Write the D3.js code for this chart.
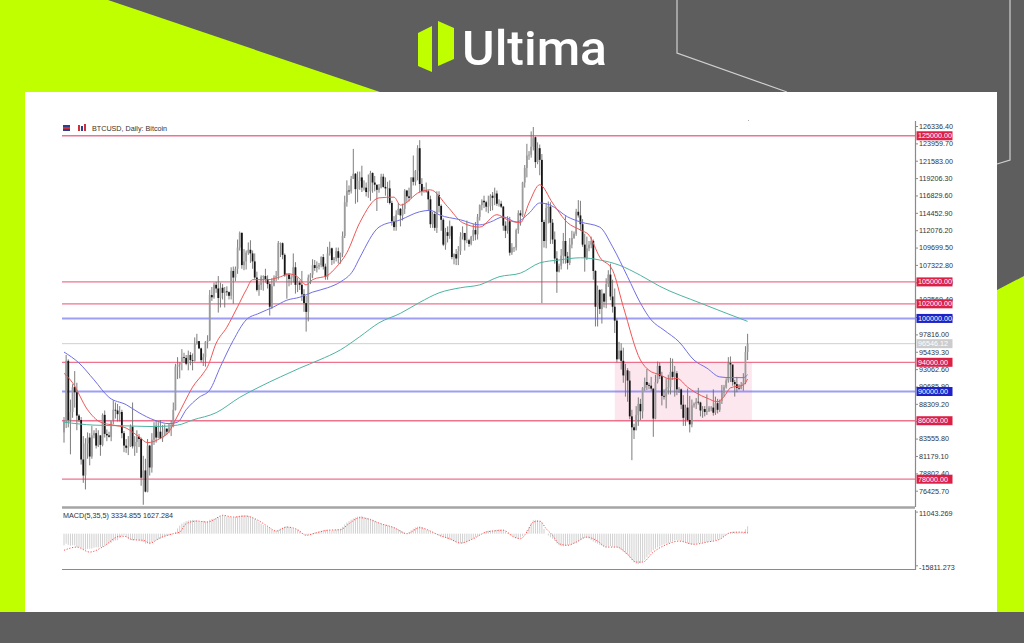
<!DOCTYPE html>
<html><head><meta charset="utf-8">
<script src="https://cdn.jsdelivr.net/npm/d3@7"></script>
<style>html,body{margin:0;padding:0;background:#5e5e5e;overflow:hidden}text{font-family:"Liberation Sans",Arial,sans-serif}</style>
</head><body><svg id="c" width="1024" height="643"></svg>
<script>
// ---- DATA (prices in USD thousands), daily bars from 1 Mar 2025 to 14 Jan 2026 ----
const opens=[84.4,86.0,94.2,86.1,87.2,90.6,89.9,86.7,86.1,80.7,78.5,82.9,83.7,81.1,84.0,84.3,82.6,84.0,82.7,86.8,84.2,84.0,83.8,86.1,87.5,87.4,86.9,87.2,84.3,82.6,82.3,
82.5,85.2,82.5,83.1,83.8,83.5,78.2,79.2,76.3,82.6,79.6,83.4,85.3,83.7,84.5,83.6,84.0,84.9,84.5,85.1,85.2,87.5,93.4,93.7,93.9,94.7,94.6,93.8,95.0,94.3,
94.2,96.5,96.9,95.9,94.3,94.7,96.8,97.0,103.2,102.9,104.6,104.1,102.8,104.2,103.5,103.7,103.6,103.1,106.5,105.6,106.8,109.7,111.7,107.3,107.8,109.0,109.4,108.9,107.8,105.6,103.9,
104.6,105.7,105.8,105.4,104.7,101.6,104.4,105.6,105.8,110.3,110.3,108.7,105.9,106.0,105.4,105.6,107.0,104.6,104.9,104.6,103.3,102.1,100.9,105.6,106.0,107.3,106.9,107.1,107.3,108.4,
107.1,105.7,108.9,109.6,108.0,108.2,109.2,108.3,108.9,111.3,115.9,117.5,117.4,119.1,119.8,117.7,118.8,119.3,117.9,117.9,117.3,117.4,119.9,118.6,118.3,117.6,117.9,119.4,118.0,117.8,117.8,
115.8,113.3,112.5,114.2,115.0,114.1,115.0,117.5,116.7,116.5,119.3,118.7,120.2,123.3,118.4,117.4,117.5,117.4,116.3,112.9,114.3,112.4,116.9,115.4,113.5,110.1,111.8,111.3,112.6,108.4,108.8,
108.2,109.2,111.2,111.7,110.7,110.7,110.2,111.2,112.1,111.5,113.9,115.5,116.1,115.9,115.3,115.4,116.8,116.5,117.1,115.7,115.7,115.3,112.7,112.0,113.3,109.0,109.7,109.7,112.1,114.4,
114.1,118.6,120.6,122.3,122.4,123.5,124.8,121.4,123.3,121.7,113.2,110.6,115.1,115.3,113.1,110.8,108.2,106.4,107.2,108.6,110.6,108.5,107.6,110.1,111.0,111.6,114.6,114.1,112.9,110.1,108.3,
109.6,110.1,110.6,106.5,101.6,103.9,101.3,103.4,102.3,104.7,106.0,103.0,101.6,99.7,94.4,95.6,94.2,92.2,92.9,91.5,86.6,85.1,84.7,86.8,88.3,87.3,90.5,91.3,90.9,90.8,
90.4,86.3,91.3,93.5,92.1,89.4,89.3,90.4,90.6,92.7,92.0,92.5,90.3,90.3,88.2,86.4,87.8,86.1,85.5,88.1,88.3,88.6,88.5,87.4,87.6,87.2,87.3,87.8,87.8,87.1,88.4,
87.5,88.7,89.9,90.6,91.5,93.9,93.7,91.3,91.0,90.5,90.4,90.8,91.2,95.4];
const highs=[86.5,95.0,94.4,88.9,91.0,92.8,91.2,86.9,86.5,83.9,83.6,84.4,84.3,85.3,84.7,85.0,84.7,84.0,87.0,87.4,84.8,84.5,86.1,88.8,88.5,88.3,88.0,87.5,84.6,83.5,83.9,
85.5,88.5,83.9,84.7,84.2,83.7,81.2,80.8,83.5,82.7,84.3,85.8,86.0,85.8,86.1,85.4,85.5,85.0,85.6,86.0,88.5,93.8,94.7,94.0,95.8,95.3,95.0,95.6,95.4,95.2,
97.4,97.9,96.9,96.0,95.2,96.9,97.7,103.9,104.3,104.9,105.0,105.8,104.9,104.7,104.3,104.4,103.7,107.0,107.1,107.1,110.8,111.9,111.8,109.5,109.3,110.4,110.7,109.3,108.9,106.4,104.9,
105.9,105.9,106.8,105.9,105.0,105.5,105.9,106.5,110.6,110.4,110.4,108.9,106.2,106.2,106.0,108.9,107.7,105.6,105.2,106.5,104.0,103.1,106.0,106.2,108.1,108.0,107.8,107.6,108.5,108.8,
107.5,109.8,110.5,109.7,108.4,109.7,109.7,109.0,111.9,116.8,118.9,118.2,119.5,123.2,119.9,120.1,120.1,120.9,118.9,118.6,119.7,120.2,120.0,119.5,118.3,118.4,119.8,119.8,119.3,118.7,118.9,
116.1,114.0,114.8,115.8,115.1,115.7,117.7,117.6,117.9,119.3,122.3,120.3,123.7,124.4,119.2,118.0,118.6,117.6,116.8,114.6,114.7,117.4,117.4,115.6,113.7,112.4,112.6,113.4,112.7,108.9,109.5,
109.9,111.8,112.6,111.7,113.4,110.9,111.3,112.9,113.2,114.3,115.6,116.3,116.8,116.1,116.8,117.0,117.3,117.9,117.5,116.3,116.1,115.4,113.3,114.0,113.9,110.3,109.8,112.3,114.8,114.8,
118.7,121.0,123.9,122.9,125.6,126.2,124.9,124.1,123.8,122.5,113.5,115.8,116.0,115.9,113.6,111.9,109.2,107.5,109.5,111.7,114.0,109.1,111.0,112.0,111.9,115.0,116.2,116.1,113.6,111.6,111.2,
110.6,111.2,110.8,106.6,104.5,104.0,104.0,103.5,105.5,106.6,107.5,105.3,104.1,100.0,96.8,96.6,96.0,93.8,93.2,92.8,87.5,85.6,88.0,89.2,89.0,90.6,91.9,93.1,91.2,92.0,
90.4,92.3,94.1,94.0,92.7,90.3,91.8,92.3,94.6,94.5,93.5,92.8,90.6,90.4,89.5,88.2,90.4,89.4,88.9,88.5,89.1,90.5,88.6,88.0,88.0,89.6,88.0,88.0,90.3,89.3,89.0,
88.9,90.9,90.9,91.8,94.7,94.8,93.6,91.6,92.0,91.0,91.3,92.5,96.2,97.9];
const lows=[83.0,85.0,85.1,81.4,86.4,87.8,84.7,85.8,80.0,77.5,76.6,80.8,79.9,80.8,83.6,82.2,82.4,81.2,82.5,83.7,83.2,83.7,83.2,85.5,86.3,85.9,85.9,83.6,81.7,81.6,81.3,
82.4,82.2,81.2,81.6,82.4,77.1,74.5,76.2,76.2,78.5,78.9,82.7,83.0,83.6,83.5,83.1,83.9,84.1,84.3,83.9,85.1,87.4,91.7,91.8,92.9,93.9,93.6,92.9,93.6,92.9,
94.1,96.4,95.8,94.0,93.5,93.4,95.9,96.9,102.4,102.7,103.5,100.8,101.5,102.6,101.5,103.1,102.6,102.6,102.0,105.1,106.1,109.3,106.8,106.6,106.7,108.7,107.6,106.8,105.4,103.7,103.1,
103.9,103.8,104.9,104.1,100.4,101.3,104.6,105.1,105.3,108.4,108.1,105.7,102.7,104.4,104.6,104.9,103.4,103.6,103.9,102.4,100.9,98.2,99.6,104.7,105.5,106.5,106.3,106.7,107.0,106.7,
105.3,105.3,108.6,107.3,107.5,107.8,107.5,107.5,108.4,111.0,115.3,116.9,117.1,119.1,115.7,115.9,117.6,117.3,117.5,116.7,116.5,116.1,117.2,117.4,114.7,117.2,117.8,117.9,116.8,115.8,115.6,
112.7,112.0,112.0,114.2,112.6,113.4,114.3,115.9,116.0,116.4,118.2,118.2,118.9,117.2,116.8,117.2,117.2,114.7,112.4,112.4,112.0,111.7,114.5,112.0,109.9,109.4,110.4,110.9,108.1,107.4,107.3,
107.3,108.7,110.8,109.3,110.3,109.8,110.0,110.6,110.7,110.8,113.4,114.8,115.1,114.6,114.4,114.7,114.8,115.5,115.4,115.3,115.1,112.0,111.0,111.6,108.6,108.7,109.1,109.3,111.6,112.7,
113.9,117.9,119.3,121.7,122.0,123.0,120.6,121.1,119.6,102.1,109.7,109.6,113.0,110.2,110.2,107.5,103.5,106.3,106.7,107.5,107.5,106.7,107.3,109.6,110.9,111.3,113.8,112.0,109.8,106.4,108.0,
109.2,109.6,105.3,98.9,98.9,100.6,99.3,101.5,101.4,104.3,102.5,100.8,98.0,94.0,94.5,93.0,91.2,89.3,88.6,86.2,80.6,83.5,84.7,85.3,86.1,86.3,90.1,90.2,90.3,90.1,
83.8,86.2,91.1,91.7,88.1,88.9,87.7,89.6,89.6,91.6,89.3,89.5,89.8,87.6,85.3,85.3,85.9,84.4,85.1,87.8,87.6,88.2,86.6,86.4,86.6,86.8,87.2,87.3,86.7,86.8,87.0,
87.2,88.3,89.3,90.4,91.2,91.3,90.8,89.3,89.9,90.2,90.3,90.1,91.0,94.3];
const closes=[86.0,94.2,86.1,87.2,90.6,89.9,86.7,86.1,80.7,78.5,82.9,83.7,81.1,84.0,84.3,82.6,84.0,82.7,86.8,84.2,84.0,83.8,86.1,87.5,87.4,86.9,87.2,84.3,82.6,82.3,82.5,
85.2,82.5,83.1,83.8,83.5,78.2,79.2,76.3,82.6,79.6,83.4,85.3,83.7,84.5,83.6,84.0,84.9,84.5,85.1,85.2,87.5,93.4,93.7,93.9,94.7,94.6,93.8,95.0,94.3,94.2,
96.5,96.9,95.9,94.3,94.7,96.8,97.0,103.2,102.9,104.6,104.1,102.8,104.2,103.5,103.7,103.6,103.1,106.5,105.6,106.8,109.7,111.7,107.3,107.8,109.0,109.4,108.9,107.8,105.6,103.9,104.6,
105.7,105.8,105.4,104.7,101.6,104.4,105.6,105.8,110.3,110.3,108.7,105.9,106.0,105.4,105.6,107.0,104.6,104.9,104.6,103.3,102.1,100.9,105.6,106.0,107.3,106.9,107.1,107.3,108.4,107.1,
105.7,108.9,109.6,108.0,108.2,109.2,108.3,108.9,111.3,115.9,117.5,117.4,119.1,119.8,117.7,118.8,119.3,117.9,117.9,117.3,117.4,119.9,118.6,118.3,117.6,117.9,119.4,118.0,117.8,117.8,115.8,
113.3,112.5,114.2,115.0,114.1,115.0,117.5,116.7,116.5,119.3,118.7,120.2,123.3,118.4,117.4,117.5,117.4,116.3,112.9,114.3,112.4,116.9,115.4,113.5,110.1,111.8,111.3,112.6,108.4,108.8,108.2,
109.2,111.2,111.7,110.7,110.7,110.2,111.2,112.1,111.5,113.9,115.5,116.1,115.9,115.3,115.4,116.8,116.5,117.1,115.7,115.7,115.3,112.7,112.0,113.3,109.0,109.7,109.7,112.1,114.4,114.1,
118.6,120.6,122.3,122.4,123.5,124.8,121.4,123.3,121.7,113.2,110.6,115.1,115.3,113.1,110.8,108.2,106.4,107.2,108.6,110.6,108.5,107.6,110.1,111.0,111.6,114.6,114.1,112.9,110.1,108.3,109.6,
110.1,110.6,106.5,101.6,103.9,101.3,103.4,102.3,104.7,106.0,103.0,101.6,99.7,94.4,95.6,94.2,92.2,92.9,91.5,86.6,85.1,84.7,86.8,88.3,87.3,90.5,91.3,90.9,90.8,90.4,
86.3,91.3,93.5,92.1,89.4,89.3,90.4,90.6,92.7,92.0,92.5,90.3,90.3,88.2,86.4,87.8,86.1,85.5,88.1,88.3,88.6,88.5,87.4,87.6,87.2,87.3,87.8,87.8,87.1,88.4,87.5,
88.7,89.9,90.6,91.5,93.9,93.7,91.3,91.0,90.5,90.4,90.8,91.2,95.4,96.5];

// moving averages: [bar index, value]
const maFast=[[0,92.5],[4,91.2],[11,87.5],[17,85.8],[23,85.4],[29,85.0],[35,83.8],[39,83.0],[45,83.6],[49,84.5],[52,86.1],[56,88.4],[60,90.6],[65,92.5],[67,93.4],[71,96.6],[76,98.8],[81,101.6],[85,103.9],[88,105.3],[95,105.3],[101,105.7],[105,106.1],[109,105.7],[113,104.6],[116,105.3],[123,105.9],[127,107.0],[132,109.0],[138,113.1],[147,116.5],[154,116.6],[157,115.5],[166,117.3],[171,117.6],[179,115.3],[186,113.1],[194,112.5],[202,114.2],[207,113.5],[213,113.1],[217,115.8],[222,118.3],[228,115.8],[235,113.1],[241,112.1],[245,111.4],[250,108.4],[256,106.6],[261,101.6],[269,94.3],[273,92.9],[278,92.3],[283,91.7],[286,91.8],[291,90.6],[295,89.8],[300,89.1],[305,88.6],[308,89.3],[311,90.5],[317,90.9],[319,91.7]];
const maMid=[[0,95.4],[7,93.9],[14,91.6],[21,89.2],[29,88.2],[35,87.1],[42,86.1],[49,85.6],[53,85.8],[57,87.5],[63,89.2],[68,90.2],[73,93.4],[79,97.0],[85,99.8],[91,100.7],[98,101.6],[104,102.5],[110,102.9],[116,103.6],[123,104.2],[129,105.0],[135,106.6],[138,108.3],[147,112.5],[157,113.5],[166,114.6],[171,114.8],[175,114.2],[185,113.5],[194,112.8],[199,113.2],[205,113.9],[211,113.2],[217,114.4],[222,115.8],[227,115.5],[235,113.9],[241,113.2],[250,112.5],[256,109.8],[263,105.7],[269,102.1],[274,99.8],[280,98.4],[287,96.8],[294,94.3],[300,93.2],[306,92.0],[311,91.9],[317,91.9],[319,92.3]];
const maSlow=[[0,85.8],[14,85.4],[29,85.3],[42,85.2],[53,85.4],[60,86.1],[71,87.1],[82,89.2],[91,90.6],[101,92.0],[110,93.2],[119,94.3],[129,95.7],[138,97.5],[147,99.4],[157,100.7],[166,102.2],[175,103.5],[185,104.2],[194,104.6],[203,105.7],[213,106.2],[222,107.6],[231,108.0],[241,108.3],[250,108.0],[259,107.3],[269,105.9],[278,104.4],[297,102.1],[319,99.6]];

// MACD(5,35,5) histogram per bar (thousands) and signal [bar index, value]
const macdHist=[-5.8,-5.0,-5.6,-6.0,-5.8,-5.9,-6.7,-6.9,-7.1,-7.8,
-8.0,-7.6,-7.5,-7.4,-7.0,-6.8,-6.9,-6.6,-6.7,-5.8,
-5.4,-5.0,-4.6,-3.8,-3.4,-3.3,-2.2,-1.2,-0.8,-1.6,
-2.4,-3.0,-3.3,-3.1,-3.0,-3.4,-3.9,-4.2,-5.0,-4.9,
-5.3,-4.4,-3.8,-3.2,-2.9,-2.5,-2.0,-1.6,-1.2,-0.8,
-0.4,0,0.9,2.6,4.0,5.0,5.6,6.3,6.6,6.8,
6.9,6.7,6.7,6.0,6.2,6.4,6.1,6.3,7.0,7.4,
7.5,7.9,8.3,8.8,9.2,9.0,8.6,8.4,8.1,8.0,
8.4,8.8,9.0,9.4,9.3,9.2,8.9,8.3,7.9,7.3,
6.7,5.9,5.0,4.3,3.9,3.3,2.8,2.0,1.5,1.3,
1.9,2.6,3.1,3.5,3.7,3.4,3.0,2.5,2.2,2.0,
1.2,0.5,-0.3,-0.8,-0.5,-0.1,0.3,0.6,0.8,1.2,
1.5,1.8,1.9,2.0,1.6,1.4,1.7,2.0,2.3,2.5,
3.4,4.6,5.6,6.3,7.0,7.6,8.1,8.5,8.7,8.9,
8.4,8.0,7.8,7.5,7.0,6.4,5.9,5.3,5.0,4.8,
4.5,4.2,3.9,3.6,3.3,2.8,2.3,1.8,1.2,0.6,
0,0.9,1.7,2.5,3.1,3.5,3.7,3.3,2.6,2.0,
1.6,1.3,0.8,0.3,-0.3,-0.8,-1.3,-1.8,-2.2,-2.7,
-3.0,-3.4,-3.9,-4.3,-4.5,-4.7,-4.9,-4.6,-4.0,-3.6,
-3.0,-2.5,-1.8,-1.2,-0.6,0,0.6,1.3,1.5,1.6,
1.7,1.8,2.0,2.2,2.1,2.0,1.2,0.4,-0.4,-1.1,
-1.7,-2.3,-2.2,-2.0,-1.2,0.2,1.7,3.4,5.2,6.7,
6.9,6.8,6.3,5.6,2.4,0,-0.9,-1.8,-2.5,-3.6,
-4.8,-5.8,-6.2,-6.3,-6.1,-5.8,-5.6,-5.3,-5.0,-4.7,
-4.0,-3.2,-2.5,-2.0,-2.0,-2.4,-3.2,-3.9,-4.5,-5.0,
-5.6,-6.0,-6.4,-6.7,-6.4,-6.2,-6.5,-6.6,-6.7,-7.3,
-8.2,-9.0,-9.9,-10.8,-12.0,-13.3,-14.4,-15.0,-15.2,-14.8,
-14.2,-13.0,-11.8,-10.5,-9.4,-8.3,-7.6,-6.9,-6.4,-5.8,
-5.4,-5.0,-4.9,-4.3,-3.8,-3.4,-3.2,-3.3,-3.6,-4.0,
-4.4,-4.8,-5.2,-5.4,-5.3,-5.1,-4.8,-4.6,-4.5,-4.4,
-4.2,-4.0,-3.8,-3.5,-3.2,-2.9,-2.5,-2.0,-1.2,-0.5,
0.2,0.8,1.0,0.9,0.8,0.8,0.7,0.6,2.2,3.7];
const macdSignal=[[0,-8.3],[6,-6.7],[12,-9.2],[18,-6.7],[26,-1.3],[28,-1.3],[32,-3.0],[37,-3.3],[40,-4.7],[45,-2.0],[51,0],[54,0.8],[57,5.0],[62,6.3],[67,5.8],[70,7.0],[74,9.2],[79,8.3],[85,8.8],[90,7.0],[95,3.7],[99,1.3],[104,3.3],[109,2.0],[113,-0.8],[118,0.5],[123,1.7],[129,2.0],[133,5.0],[138,8.0],[143,7.0],[147,5.3],[154,3.0],[160,0],[166,3.0],[171,1.3],[175,-0.8],[180,-2.5],[185,-4.7],[191,-2.5],[197,0.8],[200,1.3],[205,1.7],[210,-1.7],[213,-2.5],[216,0.8],[219,5.8],[222,6.3],[225,2.5],[228,-0.8],[231,-5.0],[235,-5.8],[239,-4.2],[244,-1.7],[249,-3.7],[253,-6.7],[258,-6.7],[263,-10.3],[267,-14.2],[270,-14.2],[275,-9.2],[281,-5.5],[287,-3.7],[294,-5.3],[300,-4.2],[306,-2.8],[311,0.5],[315,0.8],[319,0.5]];
const macdTicks=[11043.269,-15811.273];

const dateTickLabels=["18 Feb 2025","1 Apr 2025","3 May 2025","4 Jun 2025","6 Jul 2025","7 Aug 2025","9 Sep 2025","12 Oct 2025","13 Nov 2025","16 Dec 2025"];
const dateTickIdx=[-1,31,63,95,127,159,192,225,257,290];
const priceTicks=[126336.40,123959.70,121583.00,119206.30,116829.60,114452.90,112076.20,109699.50,107322.80,104946.10,102569.40,100192.70,97816.00,95439.30,93062.60,90685.90,88309.20,85932.50,83555.80,81179.10,78802.40,76425.70];
const redLevels=[125000,105000,102000,94000,86000,78000];
const blueLevels=[100000,90000];
const bidPrice=96546.12;
const zoneIdx=[257,321];
const zonePrice=[94000,86000];

// ---- DRAW ----
const svg=d3.select("#c");
svg.append("rect").attr("width",1024).attr("height",643).attr("fill","#5e5e5e");
svg.append("path").attr("d","M0,0 L108,0 L380,92 L25,92 L25,612 L0,612 Z").attr("fill","#bfff00");
svg.append("path").attr("d","M997,290 L1024,276 L1024,612 L997,612 Z").attr("fill","#bfff00");
svg.append("path").attr("d","M677,0 L677,53 L787,92").attr("fill","none").attr("stroke","#d0d0d0").attr("stroke-width",1.2);
svg.append("path").attr("d","M1010,0 L1010,160 L997,164").attr("fill","none").attr("stroke","#d0d0d0").attr("stroke-width",1.2);
svg.append("rect").attr("x",25).attr("y",92).attr("width",972).attr("height",520).attr("fill","#ffffff");

// logo
svg.append("path").attr("d","M418,33 L432,26 L432,72 L418,66 Z").attr("fill","#bfff00");
svg.append("path").attr("d","M438,21 L454,28 L454,59 L438,66 Z").attr("fill","#bfff00");
svg.append("text").attr("x",462).attr("y",65).attr("fill","#ffffff").attr("font-size",48).attr("font-weight",500)
  .style("font-family","Roboto, 'Open Sans', sans-serif").attr("textLength",145).attr("lengthAdjust","spacingAndGlyphs").text("Ultima");

const xs=d3.scaleLinear().domain([0,319]).range([64,747.6]);
const yP=d3.scaleLinear().domain([76.4257,126.3364]).range([490.7,126]);
const yM=d3.scaleLinear().domain([-15.811273,11.043269]).range([565.3,511.6]);
const X0=62,X1=915;

const defs=svg.append("defs");
defs.append("clipPath").attr("id","cp").append("rect").attr("x",X0).attr("y",121).attr("width",X1-X0).attr("height",385);
defs.append("clipPath").attr("id","cm").append("rect").attr("x",X0).attr("y",510).attr("width",X1-X0).attr("height",59);
defs.append("clipPath").attr("id","cx").append("rect").attr("x",X0).attr("y",570).attr("width",X1-X0+40).attr("height",20);

const gp=svg.append("g").attr("clip-path","url(#cp)");
// zone
gp.append("rect").attr("x",xs(zoneIdx[0])).attr("width",xs(zoneIdx[1])-xs(zoneIdx[0]))
  .attr("y",yP(zonePrice[0]/1000)).attr("height",yP(zonePrice[1]/1000)-yP(zonePrice[0]/1000)).attr("fill","#fde7ee");
// level lines
gp.selectAll(".rl").data(redLevels).join("line").attr("x1",X0).attr("x2",X1)
  .attr("y1",d=>yP(d/1000)).attr("y2",d=>yP(d/1000)).attr("stroke","#e8446a").attr("stroke-opacity",0.75).attr("stroke-width",1.3);
gp.selectAll(".bl").data(blueLevels).join("line").attr("x1",X0).attr("x2",X1)
  .attr("y1",d=>yP(d/1000)).attr("y2",d=>yP(d/1000)).attr("stroke","#6a6af0").attr("stroke-opacity",0.65).attr("stroke-width",2);
gp.append("line").attr("x1",X0).attr("x2",X1).attr("y1",yP(bidPrice/1000)).attr("y2",yP(bidPrice/1000)).attr("stroke","#cfcfcf").attr("stroke-width",1);

// candles
const idx=d3.range(closes.length);
gp.selectAll(".wk").data(idx).join("line").attr("x1",i=>xs(i)).attr("x2",i=>xs(i))
  .attr("y1",i=>yP(highs[i])).attr("y2",i=>yP(lows[i])).attr("stroke","#6e6e6e").attr("stroke-width",0.9);
gp.selectAll(".bd").data(idx).join("rect").attr("x",i=>xs(i)-0.9).attr("width",1.8)
  .attr("y",i=>yP(Math.max(opens[i],closes[i])))
  .attr("height",i=>Math.max(0.8,Math.abs(yP(opens[i])-yP(closes[i]))))
  .attr("fill",i=>closes[i]>=opens[i]?"#9c9c9c":"#151515");

// moving averages
const ln=d3.line().x(d=>xs(d[0])).y(d=>yP(d[1])).curve(d3.curveMonotoneX);
gp.append("path").attr("d",ln(maSlow)).attr("fill","none").attr("stroke","#4fb3a3").attr("stroke-width",1);
gp.append("path").attr("d",ln(maMid)).attr("fill","none").attr("stroke","#6f6fe6").attr("stroke-width",1);
gp.append("path").attr("d",ln(maFast)).attr("fill","none").attr("stroke","#f05555").attr("stroke-width",1);

// axes frame
const ax="#8a8a8a";
svg.append("line").attr("x1",X0).attr("x2",X1).attr("y1",507.5).attr("y2",507.5).attr("stroke","#a5a5a5").attr("stroke-width",2.5);
svg.append("line").attr("x1",X0).attr("x2",X1+1).attr("y1",569.5).attr("y2",569.5).attr("stroke",ax).attr("stroke-width",1.2);
svg.append("line").attr("x1",X1+0.5).attr("x2",X1+0.5).attr("y1",121).attr("y2",507).attr("stroke",ax).attr("stroke-width",1.2);
svg.append("line").attr("x1",X1+0.5).attr("x2",X1+0.5).attr("y1",510).attr("y2",570).attr("stroke",ax).attr("stroke-width",1.2);

// price axis
const pa=svg.append("g").attr("transform",`translate(${X1},0)`)
  .call(d3.axisRight(yP).tickValues(priceTicks.map(v=>v/1000)).tickSize(3).tickPadding(1).tickFormat(v=>(v*1000).toFixed(2)));
pa.select(".domain").remove();
pa.selectAll("line").attr("stroke",ax);
pa.selectAll("text").attr("font-size",7.2).attr("fill","#333").style("font-family","'Liberation Sans',Arial");

// level boxes
function box(v,col,tc){
  const y=yP(v/1000);
  svg.append("rect").attr("x",X1+1.5).attr("y",y-4.5).attr("width",36).attr("height",9).attr("fill",col);
  svg.append("text").attr("x",X1+3).attr("y",y).attr("dy","0.34em").attr("font-size",7.2).attr("fill",tc).text(v.toFixed(2));
}
box(bidPrice,"#cccccc","#ffffff");
redLevels.forEach(v=>box(v,"#dc1f45","#ffffff"));
blueLevels.forEach(v=>box(v,"#2020c8","#ffffff"));

// legend
svg.append("rect").attr("x",63).attr("y",125).attr("width",7).attr("height",6).attr("fill","#2a3f8f");
svg.append("rect").attr("x",63).attr("y",127).attr("width",7).attr("height",2).attr("fill","#d0303a");
svg.append("rect").attr("x",78).attr("y",125).attr("width",2).attr("height",6).attr("fill","#d0303a");
svg.append("rect").attr("x",81).attr("y",126).attr("width",2).attr("height",5).attr("fill","#2a3f8f");
svg.append("rect").attr("x",84).attr("y",124).attr("width",2).attr("height",7).attr("fill","#d0303a");
svg.append("text").attr("x",92).attr("y",131).attr("font-size",7.2).attr("fill","#333").text("BTCUSD, Daily:  Bitcoin");
svg.append("rect").attr("x",748).attr("y",120).attr("width",1).attr("height",1).attr("fill","#aaa");

// MACD
const gm=svg.append("g").attr("clip-path","url(#cm)");
gm.selectAll(".mh").data(idx).join("line").attr("x1",i=>xs(i)).attr("x2",i=>xs(i))
  .attr("y1",yM(0)).attr("y2",i=>yM(macdHist[i])).attr("stroke","#c9c9c9").attr("stroke-width",0.9);
const lm=d3.line().x(d=>xs(d[0])).y(d=>yM(d[1])).curve(d3.curveMonotoneX);
gm.append("path").attr("d",lm(macdSignal)).attr("fill","none").attr("stroke","#ff4d4d").attr("stroke-width",1).attr("stroke-dasharray","1.2,1.6");
svg.append("text").attr("x",63).attr("y",518).attr("font-size",7.2).attr("fill","#333").text("MACD(5,35,5) 3334.855 1627.284");
const ma=svg.append("g").attr("transform",`translate(${X1},0)`)
  .call(d3.axisRight(yM).tickValues(macdTicks.map(v=>v/1000)).tickSize(3).tickPadding(1).tickFormat(v=>(v*1000).toFixed(3)));
ma.select(".domain").remove();
ma.selectAll("line").attr("stroke",ax);
ma.selectAll("text").attr("font-size",7.2).attr("fill","#333").attr("dy","0.6em").style("font-family","'Liberation Sans',Arial");

// date axis
const da=svg.append("g").attr("transform","translate(0,569)").attr("clip-path","url(#cx)")
  .call(d3.axisBottom(xs).tickValues(dateTickIdx).tickSize(4).tickPadding(1).tickFormat((d,k)=>dateTickLabels[k]));
da.select(".domain").remove();
da.selectAll("line").attr("stroke",ax);
da.selectAll("text").attr("font-size",7.2).attr("fill","#333").attr("text-anchor","start").attr("dx","-0.1em").style("font-family","'Liberation Sans',Arial");
da.selectAll(".tick").filter((d,k)=>k===0).select("text").attr("dx","-0.6em");
</script></body></html>
